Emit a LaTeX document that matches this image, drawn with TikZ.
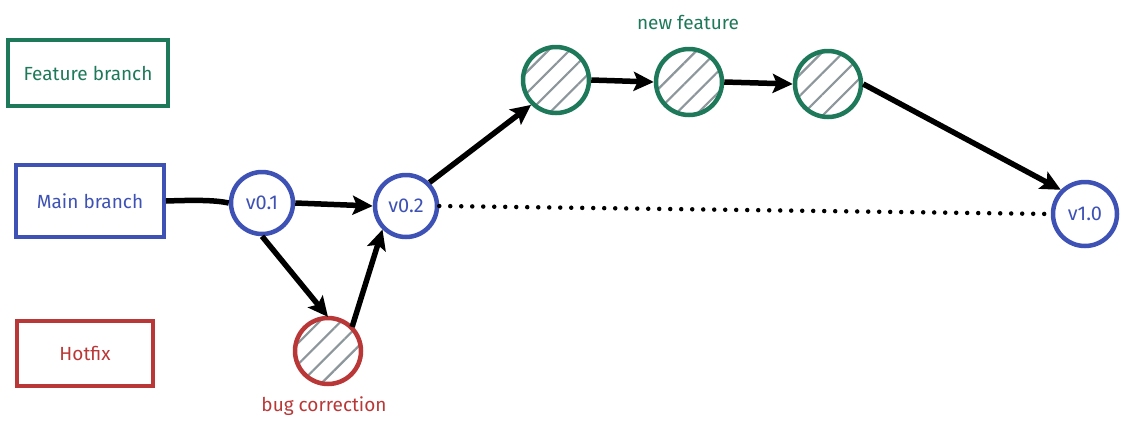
\documentclass[tikz,border=0pt]{standalone}
\usepackage{fontspec}
\setmainfont{Fira Sans}
\usetikzlibrary{arrows.meta,patterns.meta}
\definecolor{fgreen}{RGB}{30,120,90}
\definecolor{mblue}{RGB}{62,82,182}
\definecolor{hred}{RGB}{185,55,55}
\definecolor{hatch}{RGB}{140,150,155}
\begin{document}
\begin{tikzpicture}[x=1pt,y=-1pt,
  branchbox/.style={draw=#1,line width=4pt,text=#1,inner sep=0pt,font=\fontsize{19}{22}\selectfont},
  commit/.style={circle,draw=#1,line width=4.5pt,minimum size=62pt,inner sep=0pt,text=#1,font=\fontsize{20}{22}\selectfont},
  hatched/.style={commit=#1,pattern={Lines[angle=45,distance=15pt,line width=2.2pt]},pattern color=hatch},
  flow/.style={line width=5.5pt,-{Stealth[length=20pt,width=19pt,inset=4pt]}},
  label/.style={text=#1,font=\fontsize{19}{22}\selectfont}]
\useasboundingbox (0,0) rectangle (1125,429);

% branch legend
\node[branchbox=fgreen,minimum width=160pt,minimum height=66pt] (feat) at (88,73) {Feature branch};
\node[branchbox=mblue,minimum width=148pt,minimum height=72pt] (main) at (90,201) {Main branch};
\node[branchbox=hred,minimum width=136pt,minimum height=65pt] (hot) at (85,353) {Hotfix};

% commits
\node[commit=mblue] (v01) at (262,203) {v0.1};
\node[commit=mblue] (v02) at (406,206) {v0.2};
\node[commit=mblue,minimum size=64pt] (v10) at (1085,214) {v1.0};
\node[hatched=hred,minimum size=66pt] (bug) at (328,351) {};
\node[hatched=fgreen,minimum size=66pt] (f1) at (556,80) {};
\node[hatched=fgreen,minimum size=66pt] (f2) at (689,82) {};
\node[hatched=fgreen,minimum size=66pt] (f3) at (828,84) {};

% labels
\node[label=hred] (buglbl) at (324,406) {bug correction};
\node[label=fgreen] (featlbl) at (688,22) {new feature};

% connectors
\draw[line width=5.5pt] (main.east) .. controls (195,200) and (215,200) .. (v01.west);
\draw[flow] (v01.east) -- (v02.west);
\draw[flow] (v01.south) -- (bug.north);
\draw[flow] (bug.north east) -- (v02.south west);
\draw[flow] (v02.north east) -- (f1.south west);
\draw[flow] (f1.east) -- (f2.west);
\draw[flow] (f2.east) -- (f3.west);
\draw[flow] (f3.east) -- (v10.north west);
\draw[line width=4.5pt,line cap=round,dash pattern=on 0pt off 11pt] (v02.east) -- (v10.west);
\end{tikzpicture}
\end{document}
